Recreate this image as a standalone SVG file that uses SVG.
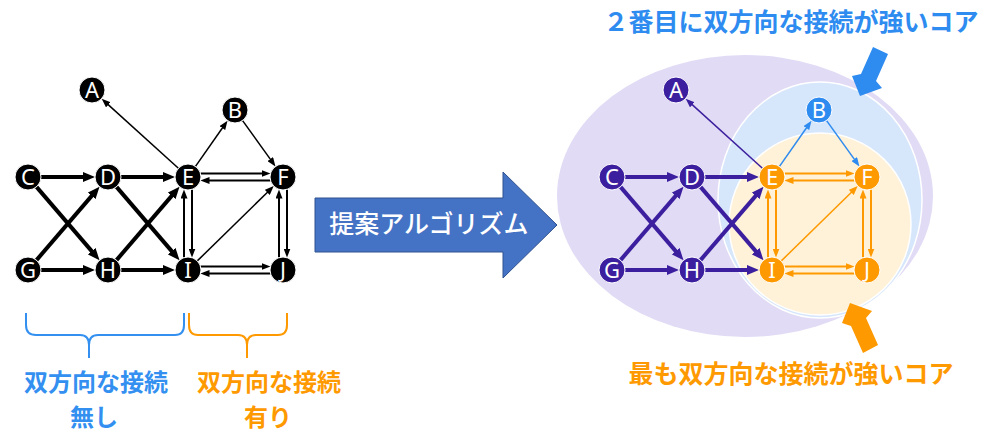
<svg xmlns="http://www.w3.org/2000/svg" width="1000" height="446" viewBox="0 0 1000 446">
<style>
.e{fill:none}
.thick{stroke-width:4}
.thin{stroke-width:1.5}
.dbl{stroke-width:2}
.k{stroke:#000}
.p{stroke:#3C1F9E}
.o{stroke:#FF9900}
.b{stroke:#2E8BF0}
.nd{stroke:#fff;stroke-width:1}
.lbl{font-family:"Noto Sans","DejaVu Sans",sans-serif;font-size:22px;fill:#fff;text-anchor:middle}
.jp{font-family:"Noto Sans CJK JP",sans-serif;font-size:25px;font-weight:700;text-anchor:middle}
.jps{font-family:"Noto Sans CJK JP",sans-serif;font-size:24px;font-weight:700;text-anchor:middle}
</style>
<defs>
<marker id="kB" markerUnits="userSpaceOnUse" markerWidth="12" markerHeight="10" refX="2" refY="5" orient="auto"><path d="M0,0 L12,5 L0,10 z" fill="#000"/></marker>
<marker id="kS" markerUnits="userSpaceOnUse" markerWidth="9" markerHeight="7" refX="1" refY="3.5" orient="auto"><path d="M0,0 L9,3.5 L0,7 z" fill="#000"/></marker>
<marker id="pB" markerUnits="userSpaceOnUse" markerWidth="12" markerHeight="10" refX="2" refY="5" orient="auto"><path d="M0,0 L12,5 L0,10 z" fill="#3C1F9E"/></marker>
<marker id="pS" markerUnits="userSpaceOnUse" markerWidth="9" markerHeight="7" refX="1" refY="3.5" orient="auto"><path d="M0,0 L9,3.5 L0,7 z" fill="#3C1F9E"/></marker>
<marker id="oS" markerUnits="userSpaceOnUse" markerWidth="9" markerHeight="7" refX="1" refY="3.5" orient="auto"><path d="M0,0 L9,3.5 L0,7 z" fill="#FF9900"/></marker>
<marker id="bS" markerUnits="userSpaceOnUse" markerWidth="9" markerHeight="7" refX="1" refY="3.5" orient="auto"><path d="M0,0 L9,3.5 L0,7 z" fill="#2E8BF0"/></marker>
</defs>
<rect width="1000" height="446" fill="#fff"/>

<!-- Left graph connectors -->
<g id="left-connectors" class="e">
<g class="k thick" marker-end="url(#kB)">
<path d="M41,177 L85,177"/>
<path d="M41,270 L85,270"/>
<path d="M121,177 L165,177"/>
<path d="M121,270 L165,270"/>
<path d="M36.5,186.9 L93,252.6"/>
<path d="M36.5,260.1 L93,194.4"/>
<path d="M116.5,186.9 L173,252.6"/>
<path d="M116.5,260.1 L173,194.4"/>
</g>
<g class="k thin" marker-end="url(#kS)">
<path d="M178.4,168.3 L107.6,104.1"/>
<path d="M195.5,166.4 L222.9,127.2"/>
<path d="M242.6,120.6 L270.8,159.9"/>
<path d="M197.3,260.9 L268,191.7"/>
</g>
<g class="k dbl" marker-end="url(#kS)">
<path d="M200.5,173.5 L262.5,173.5"/>
<path d="M270.5,180.5 L208.5,180.5"/>
<path d="M200.5,266.5 L262.5,266.5"/>
<path d="M270.5,273.5 L208.5,273.5"/>
<path d="M184,257.5 L184,197.5"/>
<path d="M192,189.5 L192,249.5"/>
<path d="M279,257.5 L279,197.5"/>
<path d="M287,189.5 L287,249.5"/>
</g>
</g>

<!-- Left graph nodes -->
<g id="L-A"><circle class="nd" cx="92" cy="90" r="13" fill="#000"/><text class="lbl" x="92" y="98">A</text></g>
<g id="L-B"><circle class="nd" cx="235" cy="110" r="13" fill="#000"/><text class="lbl" x="235" y="118">B</text></g>
<g id="L-C"><circle class="nd" cx="28" cy="177" r="13" fill="#000"/><text class="lbl" x="28" y="185">C</text></g>
<g id="L-D"><circle class="nd" cx="108" cy="177" r="13" fill="#000"/><text class="lbl" x="108" y="185">D</text></g>
<g id="L-E"><circle class="nd" cx="188" cy="177" r="13" fill="#000"/><text class="lbl" x="188" y="185">E</text></g>
<g id="L-F"><circle class="nd" cx="283" cy="177" r="13" fill="#000"/><text class="lbl" x="283" y="185">F</text></g>
<g id="L-G"><circle class="nd" cx="28" cy="270" r="13" fill="#000"/><text class="lbl" x="28" y="278">G</text></g>
<g id="L-H"><circle class="nd" cx="108" cy="270" r="13" fill="#000"/><text class="lbl" x="108" y="278">H</text></g>
<g id="L-I"><circle class="nd" cx="188" cy="270" r="13" fill="#000"/><text class="lbl" x="188" y="278">I</text></g>
<g id="L-J"><circle class="nd" cx="283" cy="270" r="13" fill="#000"/><text class="lbl" x="283" y="278">J</text></g>

<!-- Braces and labels -->
<g id="brace-none">
<path d="M26,313 L26,325 Q26,335 36,335 L80,335 Q89,335 89,345 L89,358 M89,345 Q89,335 98,335 L175,335 Q184,335 184,325 L184,313" fill="none" stroke="#3390F0" stroke-width="2"/>
<text class="jps" fill="#3390F0"><tspan x="96" y="391">双方向な接続</tspan><tspan x="94" y="426">無し</tspan></text>
</g>
<g id="brace-with">
<path d="M189,313 L189,325 Q189,335 198,335 L238,335 Q247,335 247,345 L247,358 M247,345 Q247,335 256,335 L278,335 Q287,335 287,325 L287,313" fill="none" stroke="#FF9900" stroke-width="2"/>
<text class="jps" fill="#FF9900"><tspan x="269" y="391">双方向な接続</tspan><tspan x="268" y="426">有り</tspan></text>
</g>

<!-- Central arrow -->
<g id="algo-arrow">
<polygon points="315,198 503,198 503,172 557,225 503,278 503,252 315,252" fill="#4472C4" stroke="#2F528F" stroke-width="1"/>
<text class="jp" x="429" y="233" fill="#fff" style="font-weight:500">提案アルゴリズム</text>
</g>

<!-- Core regions -->
<g id="regions">
<ellipse cx="745" cy="196" rx="188" ry="141" fill="#E1DBF5"/>
<ellipse cx="820" cy="200" rx="102" ry="118" fill="#D6E6FB" stroke="#fff" stroke-width="1.5"/>
<circle cx="820" cy="224" r="91" fill="#FFF2D8" stroke="#fff" stroke-width="1.5"/>
</g>

<!-- Right graph -->
<g id="right-graph" transform="translate(584,0)">
<g id="right-connectors" class="e">
<g class="p thick" marker-end="url(#pB)">
<path d="M41,177 L85,177"/>
<path d="M41,270 L85,270"/>
<path d="M121,177 L165,177"/>
<path d="M121,270 L165,270"/>
<path d="M36.5,186.9 L93,252.6"/>
<path d="M36.5,260.1 L93,194.4"/>
<path d="M116.5,186.9 L173,252.6"/>
<path d="M116.5,260.1 L173,194.4"/>
</g>
<path class="p thin" marker-end="url(#pS)" d="M178.4,168.3 L107.6,104.1"/>
<g class="b thin" marker-end="url(#bS)">
<path d="M195.5,166.4 L222.9,127.2"/>
<path d="M242.6,120.6 L270.8,159.9"/>
</g>
<path class="o thin" marker-end="url(#oS)" d="M197.3,260.9 L268,191.7"/>
<g class="o dbl" marker-end="url(#oS)">
<path d="M200.5,173.5 L262.5,173.5"/>
<path d="M270.5,180.5 L208.5,180.5"/>
<path d="M200.5,266.5 L262.5,266.5"/>
<path d="M270.5,273.5 L208.5,273.5"/>
<path d="M184,257.5 L184,197.5"/>
<path d="M192,189.5 L192,249.5"/>
<path d="M279,257.5 L279,197.5"/>
<path d="M287,189.5 L287,249.5"/>
</g>
</g>
<g id="R-A"><circle class="nd" cx="92" cy="90" r="13" fill="#3C1F9E"/><text class="lbl" x="92" y="98">A</text></g>
<g id="R-B"><circle class="nd" cx="235" cy="110" r="13" fill="#2E8BF0"/><text class="lbl" x="235" y="118">B</text></g>
<g id="R-C"><circle class="nd" cx="28" cy="177" r="13" fill="#3C1F9E"/><text class="lbl" x="28" y="185">C</text></g>
<g id="R-D"><circle class="nd" cx="108" cy="177" r="13" fill="#3C1F9E"/><text class="lbl" x="108" y="185">D</text></g>
<g id="R-E"><circle class="nd" cx="188" cy="177" r="13" fill="#FF9900"/><text class="lbl" x="188" y="185">E</text></g>
<g id="R-F"><circle class="nd" cx="283" cy="177" r="13" fill="#FF9900"/><text class="lbl" x="283" y="185">F</text></g>
<g id="R-G"><circle class="nd" cx="28" cy="270" r="13" fill="#3C1F9E"/><text class="lbl" x="28" y="278">G</text></g>
<g id="R-H"><circle class="nd" cx="108" cy="270" r="13" fill="#3C1F9E"/><text class="lbl" x="108" y="278">H</text></g>
<g id="R-I"><circle class="nd" cx="188" cy="270" r="13" fill="#FF9900"/><text class="lbl" x="188" y="278">I</text></g>
<g id="R-J"><circle class="nd" cx="283" cy="270" r="13" fill="#FF9900"/><text class="lbl" x="283" y="278">J</text></g>
</g>

<!-- Callouts -->
<g id="callout-second">
<polygon points="873,47 888,54 876,81 882,88 860,96 852,76 861,74" fill="#2E8BF0"/>
<text class="jp" x="791" y="31" fill="#2E8BF0">２番目に双方向な接続が強いコア</text>
</g>
<g id="callout-most">
<polygon points="850,303 872,311 866,318 878,345 863,353 851,326 842,323" fill="#FF9900"/>
<text class="jp" x="791" y="383" fill="#FF9900">最も双方向な接続が強いコア</text>
</g>
</svg>
